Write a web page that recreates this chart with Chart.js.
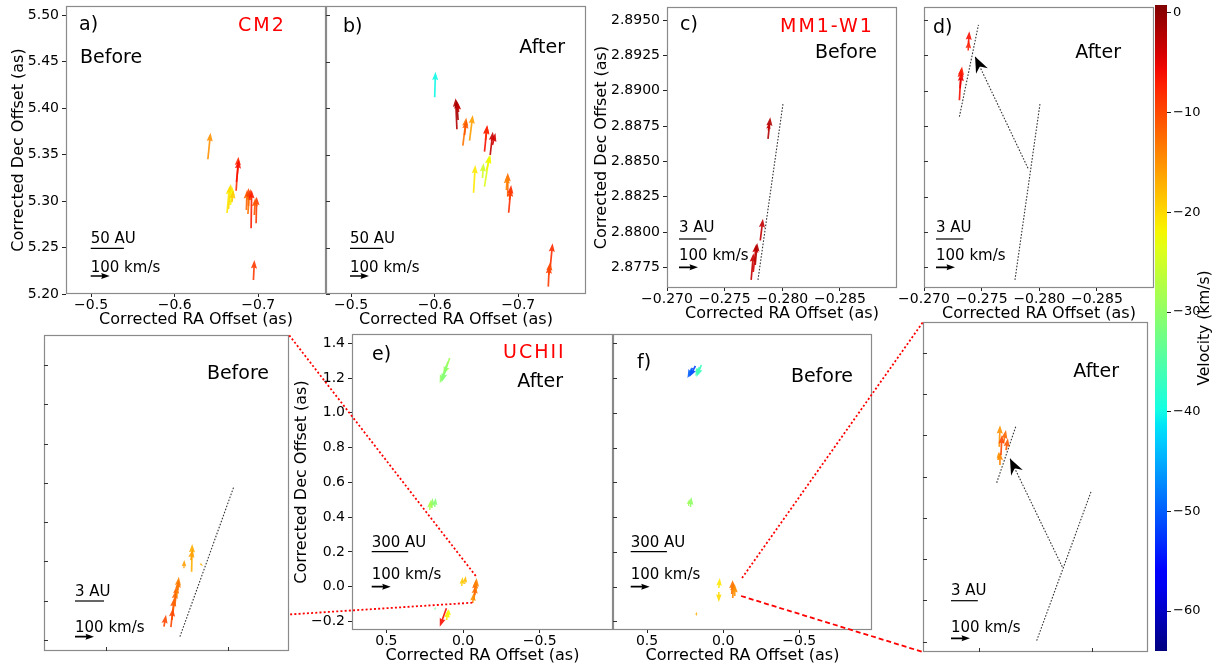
<!DOCTYPE html>
<html>
<head>
<meta charset="utf-8">
<title>Proper motions: CM2, MM1-W1, UCHII</title>
<script src="https://cdn.jsdelivr.net/npm/chart.js@4.4.1/dist/chart.umd.min.js"></script>
<style>
  body { margin: 0; background: #fff; }
  #fig { position: relative; width: 1216px; height: 668px; overflow: hidden; background: #fff; }
  #fig canvas { position: absolute; }
</style>
</head>
<body>
<div id="fig"></div>
<script>
// each arrow: [RA offset (as), Dec offset (as), v_RA (km/s), v_Dec (km/s), v_lsr (km/s)]
var cm2Before = [
  [-0.6397, 5.3450, -14, 140, -15],
  [-0.6735, 5.3112, -12, 179, -8],
  [-0.6739, 5.3206, -13, 116, -6],
  [-0.6626, 5.2872, -13, 142, -21],
  [-0.6643, 5.2915, -13, 132, -20],
  [-0.6667, 5.2958, -11, 95, -22],
  [-0.6685, 5.2990, -8, 63, -19],
  [-0.6858, 5.2904, -3, 105, -12],
  [-0.6882, 5.2947, 0, 95, -10],
  [-0.6876, 5.2861, -8, 116, -13],
  [-0.6894, 5.3012, -5, 58, -9],
  [-0.6914, 5.2707, -3, 202, -7],
  [-0.6974, 5.2761, -3, 140, -9],
  [-0.6953, 5.2850, -5, 90, -11],
  [-0.6942, 5.2151, -5, 105, -9]
];
var cm2After = [
  [-0.6000, 5.4117, -4, 135, -40],
  [-0.6266, 5.3773, 7, 163, -2],
  [-0.6280, 5.3873, 8, 105, -1],
  [-0.6286, 5.3959, 5, 53, -3],
  [-0.6337, 5.3596, -18, 149, -13],
  [-0.6357, 5.3711, -10, 79, -11],
  [-0.6417, 5.3650, -17, 135, -16],
  [-0.6596, 5.3532, -14, 140, -6],
  [-0.6608, 5.3658, -10, 74, -8],
  [-0.6664, 5.3496, -14, 123, -3],
  [-0.6691, 5.3604, -16, 63, -4],
  [-0.6596, 5.3155, -26, 167, -24],
  [-0.6572, 5.3249, -5, 79, -25],
  [-0.6620, 5.3335, -21, 79, -22],
  [-0.6465, 5.3090, -9, 146, -21],
  [-0.6874, 5.3047, 0, 126, -12],
  [-0.6858, 5.3120, -5, 79, -14],
  [-0.6885, 5.2875, -13, 146, -8],
  [-0.6894, 5.3012, -10, 63, -9],
  [-0.7359, 5.2079, -5, 114, -9],
  [-0.7383, 5.2294, -12, 123, -8],
  [-0.7365, 5.2205, -8, 68, -10]
];
var mm1Before = [
  [-0.27876, 2.88659, -12, 114, -2],
  [-0.27878, 2.88718, -5, 42, -3],
  [-0.27730, 2.87661, -12, 140, -3],
  [-0.27748, 2.87717, -16, 147, -4],
  [-0.27765, 2.87767, -11, 116, -2],
  [-0.27809, 2.87940, -14, 114, -3]
];
var mm1After = [
  [-0.27385, 2.89332, -5, 66, -6],
  [-0.27383, 2.89284, -4, 53, -7],
  [-0.27307, 2.88932, -9, 167, -6],
  [-0.27313, 2.89016, -8, 84, -5],
  [-0.27317, 2.89086, -8, 63, -7]
];
var uchiiAfter = [
  [0.0978, 1.2941, 44, -114, -30],
  [0.0868, 1.3154, 32, -89, -29],
  [0.1063, 1.2694, 26, -84, -31],
  [0.2042, 0.4527, -5, 53, -30],
  [0.2172, 0.4412, -5, 53, -28],
  [0.1846, 0.4584, -5, 47, -31],
  [0.0085, 0.0040, -5, 47, -19],
  [-0.0111, 0.0155, -5, 42, -18],
  [-0.0698, -0.0765, -11, 79, -13],
  [-0.0763, -0.0477, -5, 79, -12],
  [-0.0828, -0.0190, -5, 63, -14],
  [-0.0633, -0.0937, -5, 53, -15],
  [0.1846, -0.1340, -5, 16, -33],
  [0.1083, -0.1243, 35, -97, -6],
  [0.1063, -0.1916, -5, 53, -21],
  [0.0933, -0.1744, 0, 42, -22]
];
var uchiiBefore = [
  [0.1826, 1.2694, 32, -58, -52],
  [0.2022, 1.2580, 26, -53, -50],
  [0.1434, 1.2752, 26, -63, -37],
  [0.1565, 1.2637, 21, -47, -36],
  [0.2152, 0.4584, -5, 53, -30],
  [0.2283, 0.4642, -5, 37, -29],
  [0.0285, -0.0075, -5, 53, -21],
  [0.0285, -0.0305, 0, -53, -20],
  [-0.0628, -0.0650, -5, 84, -14],
  [-0.0563, -0.0420, -5, 74, -13],
  [-0.0759, -0.0535, 0, 63, -15],
  [0.1760, -0.1668, 0, 21, -17]
];
var uchiiZoomBefore = [
  [-0.07474, -0.00732, -11, 62, -10],
  [-0.07540, -0.00698, -11, 116, -11],
  [-0.07548, -0.00658, -16, 116, -12],
  [-0.07564, -0.00622, -11, 105, -12],
  [-0.07531, -0.00734, -11, 100, -10],
  [-0.07578, -0.00580, -12, 105, -14],
  [-0.07638, -0.00435, -2, 44, -16],
  [-0.07701, -0.00452, -3, 146, -17],
  [-0.07695, -0.00393, -10, 58, -16],
  [-0.07769, -0.00410, -16, -14, -17],
  [-0.07589, -0.00546, -3, 53, -13]
];
var uchiiZoomAfter = [
  [-0.07186, 0.00056, 0, 70, -14],
  [-0.07180, 0.00144, -4, 114, -15],
  [-0.07216, 0.00161, -14, 70, -12],
  [-0.07195, 0.00104, -5, 105, -10],
  [-0.07240, 0.00128, -10, 63, -11],
  [-0.07177, 0.00080, 3, 42, -15]
];

// dotted lines [ra1, dec1, ra2, dec2]
var mm1Axis = [-0.27789, 2.87661, -0.28006, 2.88906];
var mm1AxisAfter = [-0.27307, 2.88816, -0.27472, 2.89465];
var mm1Shift = [-0.27902, 2.88451, -0.27443, 2.89241];
var uchiiAxisBefore = [-0.07605, -0.00783, -0.08047, -0.00020];
var uchiiAxis = [-0.07512, -0.00795, -0.07994, -0.00074];
var uchiiAxisAfter = [-0.07157, -0.00030, -0.07328, 0.00245];
var uchiiShift = [-0.07739, -0.00437, -0.07275, 0.00088];

// tick labels
var cm2RaTicks = [-0.7, -0.6, -0.5];
var cm2DecTicks = [5.20, 5.25, 5.30, 5.35, 5.40, 5.45, 5.50];
var mm1RaTicks = [-0.285, -0.280, -0.275, -0.270];
var mm1DecTicks = [2.8775, 2.8800, 2.8825, 2.8850, 2.8875, 2.8900, 2.8925, 2.8950];
var uchiiRaTicks = [-0.5, 0.0, 0.5];
var uchiiDecTicks = [-0.2, 0.0, 0.2, 0.4, 0.6, 0.8, 1.0, 1.2, 1.4];
var zoomRaTicks = [-0.08, -0.07];
var zoomDecTicks = [-0.008, -0.006, -0.004, -0.002, 0.000, 0.002, 0.004, 0.006];
var velTicks = [-60, -50, -40, -30, -20, -10, 0];
var velMin = -64, velMax = 0.8;

var FONT = '"DejaVu Sans", "Liberation Sans", sans-serif';
var RED = '#ff0000';
var K = 0.19;      // arrow pixels per km/s
var DIST = 1260;   // AU per arcsec
var TICK_SIZE = 14, TITLE_SIZE = 16;
var fig = document.getElementById('fig');

// matplotlib jet
var JET = {
  r: [[0, 0], [0.35, 0], [0.66, 1], [0.89, 1], [1, 0.5]],
  g: [[0, 0], [0.125, 0], [0.375, 1], [0.64, 1], [0.91, 0], [1, 0]],
  b: [[0, 0.5], [0.11, 1], [0.34, 1], [0.65, 0], [1, 0]]
};
function seg(p, t) {
  for (var i = 1; i < p.length; i++) {
    if (t <= p[i][0]) {
      var a = p[i - 1], b = p[i];
      return a[1] + (b[1] - a[1]) * (t - a[0]) / (b[0] - a[0]);
    }
  }
  return p[p.length - 1][1];
}
function jetT(t) {
  t = Math.max(0, Math.min(1, t));
  return 'rgb(' + Math.round(255 * seg(JET.r, t)) + ',' + Math.round(255 * seg(JET.g, t)) + ',' + Math.round(255 * seg(JET.b, t)) + ')';
}
function jet(v) { return jetT((v - velMin) / (velMax - velMin)); }

function fmt(v, d) {
  var s = Math.abs(v).toFixed(d);
  return (v < 0 && +s !== 0 ? '\u2212' : '') + s;
}

function makeCanvas(x, y, w, h) {
  var c = document.createElement('canvas');
  c.width = w; c.height = h;
  c.style.left = x + 'px'; c.style.top = y + 'px';
  c.style.width = w + 'px'; c.style.height = h + 'px';
  fig.appendChild(c);
  return c;
}

function arrow(ctx, x0, y0, x1, y1, color, w) {
  var dx = x1 - x0, dy = y1 - y0, L = Math.sqrt(dx * dx + dy * dy);
  if (L < 0.3) return;
  var hl = 5 * w;
  if (L < hl * 1.3) { w = L / 6.5; hl = 5 * w; }
  var hb = 4.5 * w, hw = 1.8 * w;
  ctx.save();
  ctx.translate(x0, y0);
  ctx.rotate(Math.atan2(dy, dx));
  ctx.beginPath();
  ctx.moveTo(0, -w / 2);
  ctx.lineTo(L - hb, -w / 2);
  ctx.lineTo(L - hl, -hw);
  ctx.lineTo(L, 0);
  ctx.lineTo(L - hl, hw);
  ctx.lineTo(L - hb, w / 2);
  ctx.lineTo(0, w / 2);
  ctx.closePath();
  ctx.fillStyle = color;
  ctx.fill();
  ctx.restore();
}

function bigHead(ctx, x0, y0, x1, y1) {
  ctx.save();
  ctx.translate(x1, y1);
  ctx.rotate(Math.atan2(y1 - y0, x1 - x0));
  ctx.beginPath();
  ctx.moveTo(0, 0);
  ctx.lineTo(-16, -6.5);
  ctx.lineTo(-11, 0);
  ctx.lineTo(-16, 6.5);
  ctx.closePath();
  ctx.fillStyle = '#000';
  ctx.fill();
  ctx.restore();
}

function deco(p) {
  return {
    id: 'deco',
    afterDraw: function (chart) {
      var ctx = chart.ctx, ca = chart.chartArea, sx = chart.scales.x, sy = chart.scales.y;
      ctx.save();
      ctx.beginPath();
      ctx.rect(ca.left, ca.top, ca.right - ca.left, ca.bottom - ca.top);
      ctx.clip();
      ctx.globalAlpha = 0.9;
      p.arrows.forEach(function (a) {
        var x0 = sx.getPixelForValue(a[0]), y0 = sy.getPixelForValue(a[1]);
        arrow(ctx, x0, y0, x0 - a[2] * K, y0 - a[3] * K, jet(a[4]), 1.7);
      });
      ctx.globalAlpha = 1;
      if (p.shift) {
        var s = p.shift;
        bigHead(ctx, sx.getPixelForValue(s[0]), sy.getPixelForValue(s[1]), sx.getPixelForValue(s[2]), sy.getPixelForValue(s[3]));
      }
      ctx.restore();

      ctx.save();
      // frame
      ctx.strokeStyle = '#8a8a8a';
      ctx.lineWidth = 1.2;
      ctx.strokeRect(ca.left + 0.5, ca.top + 0.5, ca.right - ca.left - 1, ca.bottom - ca.top - 1);
      // inward ticks on unlabeled axes
      ctx.strokeStyle = '#333';
      ctx.lineWidth = 1;
      ctx.beginPath();
      if (!p.yLab) sy.ticks.forEach(function (t) {
        var y = Math.round(sy.getPixelForValue(t.value)) + 0.5;
        ctx.moveTo(ca.left, y); ctx.lineTo(ca.left + 4, y);
      });
      if (!p.xLab) sx.ticks.forEach(function (t) {
        var x = Math.round(sx.getPixelForValue(t.value)) + 0.5;
        ctx.moveTo(x, ca.bottom); ctx.lineTo(x, ca.bottom - 4);
      });
      ctx.stroke();

      // panel texts
      ctx.textBaseline = 'middle';
      p.texts.forEach(function (t) {
        ctx.font = '19px ' + FONT;
        ctx.fillStyle = t[4] || '#000';
        ctx.letterSpacing = t[4] ? '2px' : '0px';
        ctx.textAlign = t[3];
        var x = t[1] >= 0 ? ca.left + t[1] : ca.right + t[1];
        ctx.fillText(t[0], x, ca.top + t[2]);
      });
      ctx.letterSpacing = '0px';

      // scale bars
      var b = p.bar, bx = ca.left + b.x;
      var v0 = sx.getValueForPixel(bx);
      var len = Math.abs(sx.getPixelForValue(v0 - b.au / DIST) - bx);
      ctx.font = '15px ' + FONT;
      ctx.fillStyle = '#000';
      ctx.textAlign = 'left';
      ctx.fillText(b.lab, bx, ca.bottom - b.t1);
      ctx.fillText('100 km/s', bx, ca.bottom - b.t2);
      ctx.strokeStyle = '#000';
      ctx.lineWidth = 1.2;
      ctx.beginPath();
      ctx.moveTo(bx, ca.bottom - b.l1); ctx.lineTo(bx + len, ca.bottom - b.l1);
      ctx.stroke();
      arrow(ctx, bx, ca.bottom - b.a2, bx + 100 * K, ca.bottom - b.a2, '#000', 1.7);
      ctx.restore();
    }
  };
}

function axis(p, isX) {
  var lab = isX ? p.xLab : p.yLab;
  var vals = isX ? p.xTicks : p.yTicks;
  return {
    type: 'linear',
    position: isX ? 'bottom' : 'left',
    reverse: isX,
    min: isX ? p.xr[0] : p.yr[0],
    max: isX ? p.xr[1] : p.yr[1],
    afterFit: function (s) { if (isX) s.height = p.padB; else s.width = p.padL; },
    afterBuildTicks: function (s) {
      var t = vals.map(function (v) { return { value: v }; });
      if (isX) t.reverse();
      s.ticks = t;
    },
    border: { display: false },
    grid: { display: lab, drawOnChartArea: false, tickLength: isX ? 3 : 4, tickColor: '#222', tickWidth: 1 },
    ticks: {
      display: lab, includeBounds: false, autoSkip: false, maxRotation: 0,
      padding: isX ? 0 : 3, color: '#000', font: { family: FONT, size: TICK_SIZE },
      callback: function (v) { return fmt(v, isX ? p.xd : p.yd); }
    },
    title: {
      display: lab,
      text: isX ? 'Corrected RA Offset (as)' : 'Corrected Dec Offset (as)',
      color: '#000', font: { family: FONT, size: TITLE_SIZE },
      padding: isX ? { top: 0, bottom: p.xtp || 0 } : { top: p.ytp || 0, bottom: 0 }
    }
  };
}

function panel(p) {
  var padT = 14, padR = 6, b = p.box;
  var cv = makeCanvas(b[0] - p.padL, b[2] - padT, b[1] - b[0] + p.padL + padR, b[3] - b[2] + padT + p.padB);
  var ds = [{ data: p.arrows.map(function (a) { return { x: a[0], y: a[1] }; }), pointRadius: 0, showLine: false }];
  (p.lines || []).forEach(function (l) {
    ds.push({
      data: [{ x: l[0], y: l[1] }, { x: l[2], y: l[3] }],
      showLine: true, borderColor: '#333', borderWidth: 1.1, borderDash: [1.6, 1.6], pointRadius: 0
    });
  });
  return new Chart(cv, {
    type: 'scatter',
    data: { datasets: ds },
    options: {
      responsive: false, animation: false, events: [],
      layout: { padding: { top: padT, right: padR, left: 0, bottom: 0 } },
      plugins: { legend: { display: false }, tooltip: { enabled: false } },
      scales: { x: axis(p, true), y: axis(p, false) }
    },
    plugins: [deco(p)]
  });
}

var cm2X = [-0.781, -0.470], cm2Y = [5.20, 5.51];
var mm1X = [-0.28995, -0.270], mm1Y = [2.87604, 2.89592];
var uchiiX = [-0.978, 0.724], uchiiY = [-0.249, 1.4535];

var chA = panel({ box: [66, 326, 6, 294], xr: cm2X, yr: cm2Y, xTicks: cm2RaTicks, yTicks: cm2DecTicks, xd: 1, yd: 2,
  xLab: true, yLab: true, padL: 66, padB: 36, xtp: 0.5, ytp: 9.2, arrows: cm2Before,
  texts: [['a)', 13, 19, 'left'], ['CM2', 172, 20, 'left', RED], ['Before', 14, 52, 'left']],
  bar: { au: 50, lab: '50 AU', x: 24.7, t1: 55, l1: 45.7, t2: 26, a2: 18 } });
var chB = panel({ box: [326, 586, 6, 294], xr: cm2X, yr: cm2Y, xTicks: cm2RaTicks, yTicks: cm2DecTicks, xd: 1, yd: 2,
  xLab: true, yLab: false, padL: 10, padB: 36, xtp: 0.5, arrows: cm2After,
  texts: [['b)', 17, 21, 'left'], ['After', -21, 42, 'right']],
  bar: { au: 50, lab: '50 AU', x: 24, t1: 55, l1: 45.7, t2: 26, a2: 18 } });
var chC = panel({ box: [667, 897, 7, 288], xr: mm1X, yr: mm1Y, xTicks: mm1RaTicks, yTicks: mm1DecTicks, xd: 3, yd: 4,
  xLab: true, yLab: true, padL: 77, padB: 36, xtp: 1, ytp: 2, arrows: mm1Before, lines: [mm1Axis],
  texts: [['c)', 13, 18, 'left'], ['MM1-W1', 113, 20, 'left', RED], ['Before', -20, 46, 'right']],
  bar: { au: 3, lab: '3 AU', x: 12, t1: 60, l1: 49, t2: 32, a2: 20.7 } });
var chD = panel({ box: [924, 1154, 7, 288], xr: mm1X, yr: mm1Y, xTicks: mm1RaTicks, yTicks: mm1DecTicks, xd: 3, yd: 4,
  xLab: true, yLab: false, padL: 32, padB: 36, xtp: 1, arrows: mm1After, lines: [mm1AxisAfter, mm1Axis, mm1Shift], shift: mm1Shift,
  texts: [['d)', 9, 21, 'left'], ['After', -33, 46, 'right']],
  bar: { au: 3, lab: '3 AU', x: 12, t1: 60, l1: 49, t2: 32, a2: 20.7 } });
var chE = panel({ box: [352, 613, 334, 630], xr: uchiiX, yr: uchiiY, xTicks: uchiiRaTicks, yTicks: uchiiDecTicks, xd: 1, yd: 1,
  xLab: true, yLab: true, padL: 62, padB: 38, xtp: 2.5, ytp: 1.8, arrows: uchiiAfter,
  texts: [['e)', 20, 21, 'left'], ['UCHII', 151, 19, 'left', RED], ['After', -50, 48, 'right']],
  bar: { au: 300, lab: '300 AU', x: 19.7, t1: 86.7, l1: 78.3, t2: 55, a2: 43.3 } });
var chF = panel({ box: [613, 872, 334, 630], xr: uchiiX, yr: uchiiY, xTicks: uchiiRaTicks, yTicks: uchiiDecTicks, xd: 1, yd: 1,
  xLab: true, yLab: false, padL: 10, padB: 38, xtp: 2.5, arrows: uchiiBefore,
  texts: [['f)', 24, 29, 'left'], ['Before', -19, 43, 'right']],
  bar: { au: 300, lab: '300 AU', x: 17.7, t1: 86.7, l1: 78.3, t2: 55, a2: 43.3 } });
var chG = panel({ box: [44, 289, 335, 651], xr: [-0.0850, -0.0649], yr: [-0.00856, 0.00753], xTicks: zoomRaTicks, yTicks: zoomDecTicks,
  xd: 2, yd: 3, xLab: false, yLab: false, padL: 6, padB: 12, arrows: uchiiZoomBefore, lines: [uchiiAxisBefore],
  texts: [['Before', -20, 39, 'right']],
  bar: { au: 3, lab: '3 AU', x: 31, t1: 59.3, l1: 50, t2: 23.3, a2: 14.3 } });
var chH = panel({ box: [923, 1148, 322, 652], xr: [-0.0850, -0.06503], yr: [-0.0085, 0.00749], xTicks: zoomRaTicks, yTicks: zoomDecTicks,
  xd: 2, yd: 3, xLab: false, yLab: false, padL: 6, padB: 12, arrows: uchiiZoomAfter, lines: [uchiiAxisAfter, uchiiAxis, uchiiShift], shift: uchiiShift,
  texts: [['After', -29, 50, 'right']],
  bar: { au: 3, lab: '3 AU', x: 28, t1: 61, l1: 51.3, t2: 23.7, a2: 13.7 } });

// colour bar
var cbCanvas = makeCanvas(1155, -5, 61, 666);
new Chart(cbCanvas, {
  type: 'bar',
  data: {
    labels: ['v'],
    datasets: [{
      data: [[velMin, velMax]],
      backgroundColor: function (c) {
        var ca = c.chart.chartArea;
        if (!ca) return '#888';
        var g = c.chart.ctx.createLinearGradient(0, ca.bottom, 0, ca.top);
        for (var i = 0; i <= 40; i++) g.addColorStop(i / 40, jetT(i / 40));
        return g;
      },
      borderWidth: 0, borderSkipped: false, barPercentage: 1, categoryPercentage: 1
    }]
  },
  options: {
    responsive: false, animation: false, events: [],
    layout: { padding: { top: 10, bottom: 10, left: 0, right: 0 } },
    plugins: { legend: { display: false }, tooltip: { enabled: false } },
    scales: {
      x: { display: false },
      y: {
        position: 'right', min: velMin, max: velMax,
        afterFit: function (s) { s.width = 49; },
        afterBuildTicks: function (s) { s.ticks = velTicks.map(function (v) { return { value: v }; }); },
        border: { display: false },
        grid: { drawOnChartArea: false, tickLength: 4, tickColor: '#222' },
        ticks: { padding: 2, color: '#000', font: { family: FONT, size: 13 }, callback: function (v) { return fmt(v, 0); } }
      }
    }
  },
  plugins: [{
    id: 'cbTitle',
    afterDraw: function (chart) {
      var ctx = chart.ctx, ca = chart.chartArea;
      ctx.save();
      ctx.translate(50, (ca.top + ca.bottom) / 2);
      ctx.rotate(-Math.PI / 2);
      ctx.font = '15.5px ' + FONT;
      ctx.fillStyle = '#000';
      ctx.textAlign = 'center';
      ctx.textBaseline = 'middle';
      ctx.fillText('Velocity (km/s)', 0, 0);
      ctx.restore();
    }
  }]
});

// red zoom connectors
var ov = makeCanvas(0, 0, 1216, 668);
ov.style.pointerEvents = 'none';
var octx = ov.getContext('2d');
function pt(ch, px, py) { return [ch.canvas.offsetLeft + px, ch.canvas.offsetTop + py]; }
function dataPt(ch, x, y) { return pt(ch, ch.scales.x.getPixelForValue(x), ch.scales.y.getPixelForValue(y)); }
function link(a, b, dash) {
  octx.save();
  octx.strokeStyle = RED;
  octx.lineWidth = 1.8;
  octx.setLineDash(dash);
  octx.beginPath();
  octx.moveTo(a[0], a[1]);
  octx.lineTo(b[0], b[1]);
  octx.stroke();
  octx.restore();
}
link(dataPt(chE, -0.083, 0.062), pt(chG, chG.chartArea.right, chG.chartArea.top), [2, 2.2]);
link(dataPt(chE, -0.061, -0.092), pt(chG, chG.chartArea.right, chG.scales.y.getPixelForValue(-0.0067)), [2, 2.2]);
link(dataPt(chF, -0.124, 0.050), pt(chH, chH.chartArea.left, chH.chartArea.top), [2, 2.2]);
link(dataPt(chF, -0.1175, -0.0535), pt(chH, chH.chartArea.left, chH.chartArea.bottom), [5, 3]);
</script>
</body>
</html>
